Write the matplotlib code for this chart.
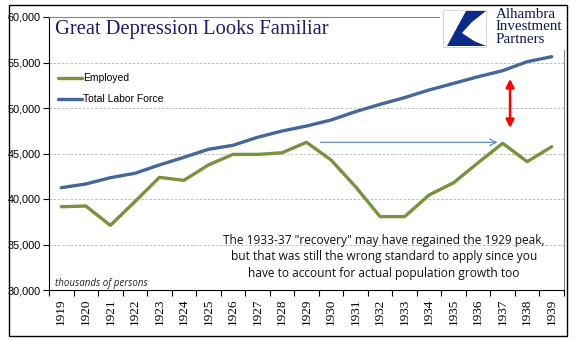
import numpy as np
import matplotlib.pyplot as plt
from matplotlib.patches import Rectangle, Polygon

years = [str(y) for y in range(1919, 1940)]
employed = [39150, 39230, 37100, 39700, 42380, 42050, 43740, 44900, 44900, 45080, 46230,
            44290, 41350, 38060, 38060, 40440, 41790, 43990, 46120, 44100, 45750]
labor_force = [41240, 41650, 42340, 42820, 43740, 44580, 45460, 45900, 46780, 47470, 48020,
               48680, 49600, 50400, 51140, 51980, 52710, 53440, 54100, 55090, 55640]
note = ('The 1933-37 "recovery" may have regained the 1929 peak,\n'
        'but that was still the wrong standard to apply since you\n'
        'have to account for actual population growth too')

W, H = 578, 341
fig = plt.figure(figsize=(W / 100, H / 100), dpi=100)

def px(x0, y0, x1, y1):
    # pixel box (y down) -> figure rect
    return [x0 / W, 1 - y1 / H, (x1 - x0) / W, (y1 - y0) / H]

ax = fig.add_axes(px(49, 17, 564, 290))
x = np.arange(len(years))

green = '#77933c'
blue = '#44689a'
ax.plot(x, employed, color=green, lw=2.4, label='Employed', solid_capstyle='round')
ax.plot(x, labor_force, color=blue, lw=2.4, label='Total Labor Force', solid_capstyle='round')

ax.set_xlim(-0.5, len(years) - 0.5)
ax.set_ylim(30000, 60000)
ax.set_yticks(range(30000, 60001, 5000))
ax.set_yticklabels([f'{v:,}' for v in range(30000, 60001, 5000)],
                   fontsize=7.8, family='Liberation Sans')
for v in range(35000, 60000, 5000):
    ax.axhline(v, color='#b4b4b4', lw=0.6, ls=(0, (3, 2)), zorder=0)

ax.set_xticks(x)
ax.set_xticklabels(years, rotation=90, fontsize=9.5, family='Liberation Serif')
ax.set_xticks(np.arange(-0.5, len(years)), minor=True)
ax.tick_params(axis='x', which='major', length=0, pad=6)
ax.tick_params(axis='x', which='minor', length=4, width=0.8, direction='out')
ax.tick_params(axis='y', length=4, width=0.8, direction='out', pad=2)

ax.spines['left'].set_color('black')
ax.spines['bottom'].set_color('black')
ax.spines['top'].set_color('#868686')
ax.spines['right'].set_color('#868686')
for s in ax.spines.values():
    s.set_linewidth(0.8)

ax.text(0.012, 0.99, 'Great Depression Looks Familiar', transform=ax.transAxes,
        fontsize=14.8, family='Liberation Serif', color='#1a1a6e', va='top')

leg = ax.legend(loc='upper left', bbox_to_anchor=(0.0, 0.828), frameon=False,
                prop={'family': 'Liberation Sans', 'size': 7.5},
                handlelength=2.3, handletextpad=0.1, labelspacing=1.05)

ax.text(0.012, 0.015, 'thousands of persons', transform=ax.transAxes,
        fontsize=7, style='italic', family='Open Sans', color='#222222')
ax.text(13.15, 36200, note, ha='center', va='top', fontsize=8.6,
        family='Open Sans', linespacing=1.35, color='#111111')

# annotation arrows
ax.annotate('', xy=(17.9, 46230), xytext=(10.45, 46230),
            arrowprops=dict(arrowstyle='->', color='#4f81bd', lw=0.8,
                            mutation_scale=12))
ax.annotate('', xy=(18.3, 53200), xytext=(18.3, 47800),
            arrowprops=dict(arrowstyle='<|-|>', color='red', lw=1.8,
                            mutation_scale=12, shrinkA=0, shrinkB=0))

# logo
lax = fig.add_axes([0, 0, 1, 1], zorder=5)
lax.set_xlim(0, W)
lax.set_ylim(H, 0)
lax.axis('off')
lax.add_patch(Rectangle((440, 2), 126, 48, facecolor='white', edgecolor='none'))
lax.add_patch(Rectangle((443, 10), 43, 37, facecolor='white', edgecolor='#d0d0d0', lw=0.6))
lax.add_patch(Polygon([(466, 11), (486, 11), (472, 22), (462, 33), (474, 41),
                       (486, 46), (447, 46)], closed=True, facecolor='#0b2a8c',
                      edgecolor='none'))
lax.text(496, 8, 'Alhambra\nInvestment\nPartners', va='top', ha='left',
         family='Liberation Serif', fontsize=10.8, color='#0b1a5a', linespacing=0.93)
# outer frame
lax.add_patch(Rectangle((9, 5), 558, 331, facecolor='none', edgecolor='black', lw=1.0))

fig.savefig('out.png', dpi=100)
